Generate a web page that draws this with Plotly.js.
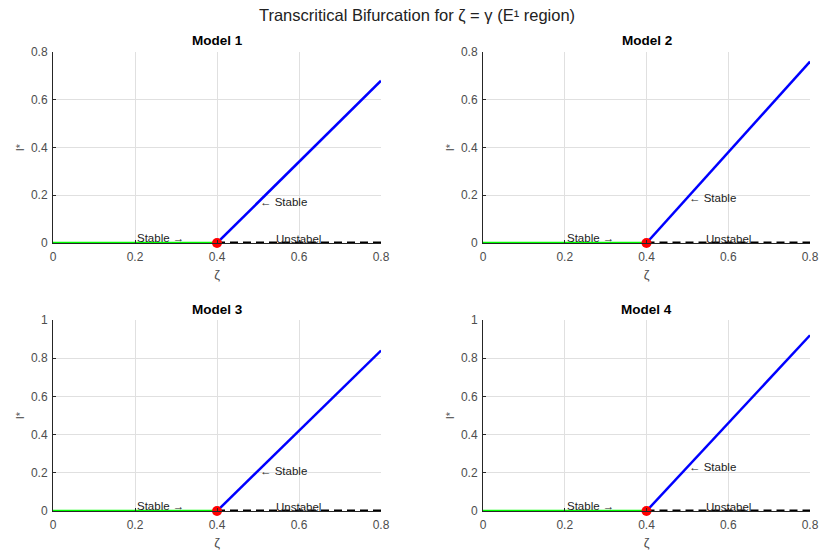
<!DOCTYPE html>
<html>
<head>
<meta charset="utf-8">
<script src="https://cdn.plot.ly/plotly-3.0.1.min.js"></script>
<style>
  html, body { margin: 0; padding: 0; background: #fff; }
  #chart { width: 821px; height: 554px; }
</style>
</head>
<body>
<div id="chart"></div>
<script>
// Transcritical bifurcation: equilibrium I* against zeta for four models
const models = ["Model 1", "Model 2", "Model 3", "Model 4"];
const zetaCrit = 0.4;              // bifurcation point
const zetaStart = 0;
const zetaEnd = 0.8;
const iStarEnd = [0.68, 0.76, 0.84, 0.92];   // I* on the stable branch at zeta = 0.8
const stableLabelY = [0.17, 0.19, 0.21, 0.23]; // height of the "← Stable" label at zeta = 0.5
const yMax = [0.8, 0.8, 1, 1];
const yTicks = [[0, 0.2, 0.4, 0.6, 0.8], [0, 0.2, 0.4, 0.6, 0.8],
                [0, 0.2, 0.4, 0.6, 0.8, 1], [0, 0.2, 0.4, 0.6, 0.8, 1]];
const xTicks = [0, 0.2, 0.4, 0.6, 0.8];

const W = 821, H = 554;
// plot boxes in pixels: [left, right, top, bottom]
const boxes = [
  [53, 381, 52, 243],
  [483, 810, 52, 243],
  [53, 381, 320, 511],
  [483, 810, 320, 511]
];

const font = "Liberation Sans, Arial, Helvetica, sans-serif";
const axisColor = "#262626";
const tickColor = "#4d4d4d";

const traces = [];
const annotations = [];
const layout = {
  width: W, height: H,
  margin: {l: 0, r: 0, t: 0, b: 0},
  paper_bgcolor: "#fff",
  plot_bgcolor: "#fff",
  showlegend: false,
  font: {family: font, size: 12, color: tickColor},
  title: {
    text: "Transcritical Bifurcation for ζ = γ (E¹ region)",
    font: {family: font, size: 16.5, color: "#222"},
    x: 0.508, xanchor: "center", y: 1 - 15 / H, yanchor: "middle"
  },
  annotations: annotations
};

models.forEach((name, i) => {
  const n = i + 1;
  const xa = "x" + (n === 1 ? "" : n);
  const ya = "y" + (n === 1 ? "" : n);
  const b = boxes[i];

  layout["xaxis" + (n === 1 ? "" : n)] = {
    domain: [b[0] / W, b[1] / W],
    anchor: ya,
    range: [zetaStart, zetaEnd],
    tickvals: xTicks,
    ticktext: xTicks.map(String),
    showgrid: true, gridcolor: "#e0e0e0", gridwidth: 1,
    zeroline: false,
    showline: true, linecolor: axisColor, linewidth: 1,
    ticks: "inside", ticklen: 3, tickcolor: axisColor,
    ticklabelstandoff: 3,
    tickfont: {family: font, size: 12, color: tickColor},
    title: {text: "ζ", font: {family: font, size: 13, color: tickColor}, standoff: 6},
    fixedrange: true
  };
  layout["yaxis" + (n === 1 ? "" : n)] = {
    domain: [1 - b[3] / H, 1 - b[2] / H],
    anchor: xa,
    range: [0, yMax[i]],
    tickvals: yTicks[i],
    ticktext: yTicks[i].map(String),
    showgrid: true, gridcolor: "#e0e0e0", gridwidth: 1,
    zeroline: false,
    showline: true, linecolor: axisColor, linewidth: 1,
    ticks: "inside", ticklen: 3, tickcolor: axisColor,
    ticklabelstandoff: 2,
    tickfont: {family: font, size: 12, color: tickColor},
    title: {text: "I*", font: {family: font, size: 11, color: tickColor}, standoff: 4},
    fixedrange: true
  };

  // trivial equilibrium, stable for zeta < zetaCrit
  traces.push({
    x: [zetaStart, zetaCrit], y: [0, 0], xaxis: xa, yaxis: ya,
    mode: "lines", line: {color: "#00ff00", width: 2.5}, cliponaxis: false
  });
  // trivial equilibrium, unstable for zeta > zetaCrit
  traces.push({
    x: [zetaCrit, zetaEnd], y: [0, 0], xaxis: xa, yaxis: ya,
    mode: "lines", line: {color: "#000", width: 3, dash: "8px,5px"}, cliponaxis: false
  });
  // endemic equilibrium branch
  traces.push({
    x: [zetaCrit, zetaEnd], y: [0, iStarEnd[i]], xaxis: xa, yaxis: ya,
    mode: "lines", line: {color: "#0000ff", width: 2.5}, cliponaxis: false
  });
  // bifurcation point
  traces.push({
    x: [zetaCrit], y: [0], xaxis: xa, yaxis: ya,
    mode: "markers", marker: {color: "#ff0000", size: 10}, cliponaxis: false
  });

  // subplot title
  annotations.push({
    text: "<b>" + name + "</b>",
    xref: "paper", yref: "paper",
    x: (b[0] + b[1]) / 2 / W, y: 1 - (b[2] - 11) / H,
    xanchor: "center", yanchor: "middle", showarrow: false,
    font: {family: font, size: 13.5, color: "#000"}
  });

  const labelFont = {family: font, size: 11.5, color: "#222"};
  annotations.push({
    text: "Stable →", xref: xa, yref: ya, x: 0.2, y: 0,
    xanchor: "left", yanchor: "middle", yshift: 5, showarrow: false, font: labelFont
  });
  annotations.push({
    text: "← Stable", xref: xa, yref: ya, x: 0.5, y: stableLabelY[i],
    xanchor: "left", yanchor: "middle", showarrow: false, font: labelFont
  });
  annotations.push({
    text: "Unstabel", xref: xa, yref: ya, x: 0.54, y: 0,
    xanchor: "left", yanchor: "middle", yshift: 4, showarrow: false, font: labelFont
  });
});

Plotly.newPlot("chart", traces, layout, {displayModeBar: false, staticPlot: true});
</script>
</body>
</html>
